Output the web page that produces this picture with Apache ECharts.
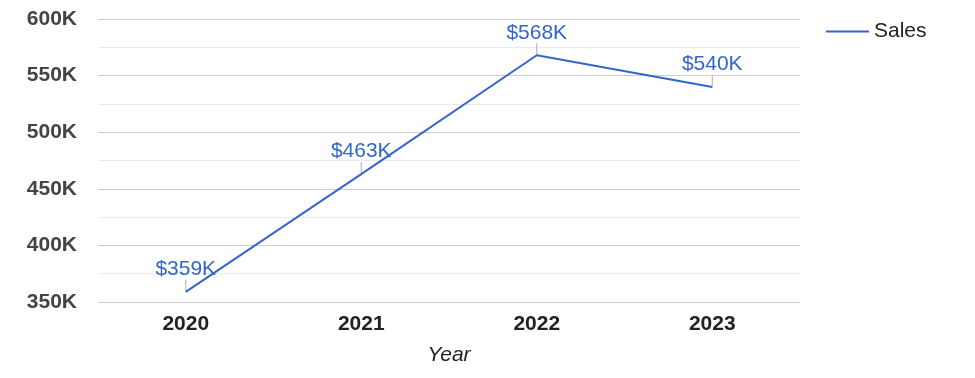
<!DOCTYPE html>
<html><head><meta charset="utf-8">
<script src="https://cdn.jsdelivr.net/npm/echarts@6/dist/echarts.min.js"></script>
<style>html,body{margin:0;padding:0;background:#fff}#c{width:975px;height:378px}</style>
</head><body><div id="c"></div>
<script>
const categories = ['2020', '2021', '2022', '2023'];
const sales = [359, 463, 568, 540]; // thousands of dollars
const yTicks = [350, 400, 450, 500, 550, 600];

const FONT = 'Arial, "Liberation Sans", sans-serif';
const chart = echarts.init(document.getElementById('c'));
chart.setOption({
  animation: false,
  backgroundColor: '#fff',
  grid: { left: 98, right: 175, top: 19, bottom: 76, containLabel: false },
  legend: {
    data: [{ name: 'Sales', icon: 'rect' }],
    left: 821, top: 16, itemWidth: 43, itemHeight: 2, itemGap: 10,
    textStyle: { fontFamily: FONT, fontSize: 21, color: '#222', padding: [0, 0, 0, 0] }
  },
  xAxis: {
    type: 'category', data: categories, boundaryGap: true,
    name: 'Year', nameLocation: 'middle', nameGap: 43,
    nameTextStyle: { fontFamily: FONT, fontSize: 21, fontStyle: 'italic', color: '#222' },
    axisLine: { show: false }, axisTick: { show: false },
    axisLabel: { fontFamily: FONT, fontSize: 21, fontWeight: 'bold', color: '#222', margin: 12 }
  },
  yAxis: {
    type: 'value', min: yTicks[0], max: yTicks[yTicks.length - 1], interval: 50,
    axisLine: { show: false }, axisTick: { show: false },
    axisLabel: { fontFamily: FONT, fontSize: 21, fontWeight: 'bold', color: '#444', margin: 21,
      formatter: v => v + 'K' },
    splitLine: { lineStyle: { color: '#cccccc', width: 1 } },
    minorTick: { show: false, splitNumber: 2 },
    minorSplitLine: { show: true, lineStyle: { color: '#ebebeb', width: 1 } }
  },
  series: [
    {
      name: 'stem', type: 'scatter', data: sales, silent: true,
      symbol: 'rect', symbolSize: [1, 12], symbolOffset: [0, -6],
      itemStyle: { color: '#999' }, z: 1, legendHoverLink: false
    },
    {
      name: 'Sales', type: 'line', data: sales, showSymbol: true, symbol: 'circle', symbolSize: 0.01,
      lineStyle: { color: '#3366cc', width: 2 }, itemStyle: { color: '#3366cc' },
      z: 2,
      label: { show: true, position: 'top', distance: 12, fontFamily: FONT, fontSize: 21,
        color: '#3366cc', formatter: p => '$' + p.value + 'K' }
    }
  ]
});
</script></body></html>
